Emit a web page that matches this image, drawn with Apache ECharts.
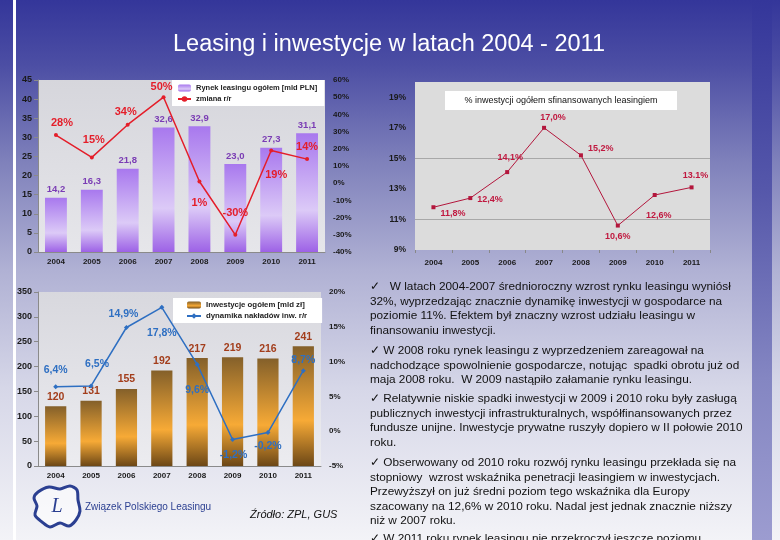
<!DOCTYPE html>
<html><head><meta charset="utf-8">
<script src="https://cdn.jsdelivr.net/npm/echarts@6/dist/echarts.min.js"></script>
<style>
html,body{margin:0;padding:0;width:780px;height:540px;overflow:hidden;}
#bg{position:absolute;left:0;top:0;width:780px;height:540px;background:linear-gradient(to bottom,#34369a 0%,#4c4ea4 12%,#7f81bb 30%,#b0b1d4 50%,#d6d7e8 72%,#f3f3f7 100%);}
#vline{position:absolute;left:13px;top:0;width:3px;height:540px;background:#fff;}
#band{position:absolute;left:752px;top:0;width:20px;height:540px;background:linear-gradient(to bottom,#34369a 0%,#5557aa 35%,#8486c2 70%,#9c9cd0 100%);}
#chart{position:absolute;left:0;top:0;width:780px;height:540px;}
</style></head>
<body>
<div id="bg"></div><div id="vline"></div><div id="band"></div>
<div id="chart"></div>
<script>
// ---- data ----
const years = ['2004','2005','2006','2007','2008','2009','2010','2011'];
const leasingMarket = [14.2,16.3,21.8,32.6,32.9,23.0,27.3,31.1];   // mld PLN
const leasingChange = [28,15,34,50,1,-30,19,14];                   // % r/r
const leasingShare = [11.8,12.4,14.1,17.0,15.2,10.6,12.6,13.1];    // % inwestycji finansowanych leasingiem
const investTotal = [120,131,155,192,217,219,216,241];             // mld zł
const investChange = [6.4,6.5,14.9,17.8,9.6,-1.2,-0.2,8.7];        // % r/r
const shareGridLines = [11,15];

const FONT = '"Liberation Sans", Arial, sans-serif';
const comma = v => String(v.toFixed(1)).replace('.', ',');

// label placement (style)
const chgPos = [['top',[6,0]],['top',[2,-5]],['top',[-2,0]],['top',[-2,2]],['bottom',[0,9]],['top',[0,-9]],['bottom',[5,12]],['top',[0,0]]];
const sharePos = [['right',[0,6]],['right',[0,1]],['top',[3,-3]],['top',[9,1]],['right',[0,-7]],['bottom',[0,-1]],['bottom',[4,9]],['top',[4,0]]];
const invPos = [['top',[0,-4]],['top',[6,-9]],['top',[-3,0]],['bottom',[0,13]],['bottom',[0,13]],['bottom',[1,3]],['bottom',[0,1]],['top',[0,2]]];

const lg = (c) => new echarts.graphic.LinearGradient(0,0,0,1,c);
const axisLbl = {fontFamily: FONT, fontSize: 9, fontWeight: 'bold', color: '#1a1a1a'};
const TXT = '11.8px ' + FONT;

const chart = echarts.init(document.getElementById('chart'), null, {renderer: 'canvas'});

const option = {
  animation: false,
  grid: [
    {left:38, top:80, width:287, height:172, show:true, borderWidth:0,
     backgroundColor: lg([{offset:0,color:'#d6d6dc'},{offset:1,color:'#e6e6ea'}])},
    {left:415, top:82, width:295, height:168, show:true, borderWidth:0, backgroundColor:'#dcdcdc'},
    {left:38, top:292, width:283, height:174, show:true, borderWidth:0,
     backgroundColor: lg([{offset:0,color:'#d8d8de'},{offset:1,color:'#ececf0'}])}
  ],
  legend: [
    {data:['Rynek leasingu ogółem [mld PLN]','zmiana r/r'], left:172, top:80, orient:'vertical',
     backgroundColor:'#fff', padding:[4,7,3,5], itemGap:3, itemWidth:13, itemHeight:7,
     textStyle:{fontFamily:FONT, fontSize:7.5, fontWeight:'bold', color:'#222'}},
    {data:['Inwestycje ogółem [mld zł]','dynamika nakładów inw. r/r'], left:173, top:298, orient:'vertical',
     backgroundColor:'#fff', padding:[3,15,3,13], itemGap:3, itemWidth:14, itemHeight:7,
     textStyle:{fontFamily:FONT, fontSize:7.8, fontWeight:'bold', color:'#222'}}
  ],
  xAxis: [
    {type:'category', gridIndex:0, data:years, axisLine:{lineStyle:{color:'#8a8a8a'}}, axisTick:{show:false},
     axisLabel:Object.assign({}, axisLbl, {margin:6, fontSize:8})},
    {type:'category', gridIndex:1, data:years, axisLine:{show:false}, axisTick:{show:true, length:3, lineStyle:{color:'#888'}},
     axisLabel:Object.assign({}, axisLbl, {margin:9, fontSize:8})},
    {type:'category', gridIndex:2, data:years, axisLine:{lineStyle:{color:'#8a8a8a'}}, axisTick:{show:false},
     axisLabel:Object.assign({}, axisLbl, {margin:6, fontSize:8})}
  ],
  yAxis: [
    {type:'value', gridIndex:0, min:0, max:45, interval:5, splitLine:{show:false},
     axisLine:{show:true, lineStyle:{color:'#8a8a8a'}}, axisTick:{show:true, length:4, lineStyle:{color:'#8a8a8a'}},
     axisLabel:Object.assign({}, axisLbl, {margin:6})},
    {type:'value', gridIndex:0, position:'right', min:-40, max:60, interval:10, splitLine:{show:false},
     axisLine:{show:false}, axisTick:{show:false},
     axisLabel:Object.assign({}, axisLbl, {margin:8, fontSize:8, formatter: v => v + '%'})},
    {type:'value', gridIndex:1, min:9, max:20, interval:1, splitLine:{show:false},
     axisLine:{show:false}, axisTick:{show:false},
     axisLabel:Object.assign({}, axisLbl, {margin:9, fontSize:8.5, showMaxLabel:false,
       formatter: v => (Math.round(v) % 2 === 1 ? v + '%' : '')})},
    {type:'value', gridIndex:2, min:0, max:350, interval:50, splitLine:{show:false},
     axisLine:{show:true, lineStyle:{color:'#8a8a8a'}}, axisTick:{show:true, length:4, lineStyle:{color:'#8a8a8a'}},
     axisLabel:Object.assign({}, axisLbl, {margin:6})},
    {type:'value', gridIndex:2, position:'right', min:-5, max:20, interval:5, splitLine:{show:false},
     axisLine:{show:false}, axisTick:{show:false},
     axisLabel:Object.assign({}, axisLbl, {margin:8, fontSize:8, formatter: v => v + '%'})}
  ],
  series: [
    {name:'Rynek leasingu ogółem [mld PLN]', type:'bar', xAxisIndex:0, yAxisIndex:0, data:leasingMarket, barWidth:'61%',
     itemStyle:{color: lg([{offset:0,color:'#a878ee'},{offset:0.65,color:'#dccaf7'},{offset:1,color:'#9d62e6'}])},
     label:{show:true, position:'top', distance:3, fontFamily:FONT, fontSize:9.5, fontWeight:'bold', color:'#7a3cb4',
       formatter: p => comma(p.value)}},
    {name:'zmiana r/r', type:'line', xAxisIndex:0, yAxisIndex:1, z:5,
     data: leasingChange.map((v,i) => ({value:v, label:{position:chgPos[i][0], offset:chgPos[i][1]}})),
     color:'#e41e2a', lineStyle:{width:1.5, color:'#e41e2a'}, symbol:'circle', symbolSize:4,
     itemStyle:{color:'#e41e2a'},
     label:{show:true, fontFamily:FONT, fontSize:11, fontWeight:'bold', color:'#e41e2a', formatter: p => p.value + '%'}},
    {name:'udział leasingu', type:'line', xAxisIndex:1, yAxisIndex:2, z:5,
     data: leasingShare.map((v,i) => ({value:v, label:{position:sharePos[i][0], offset:sharePos[i][1]}})),
     lineStyle:{width:1, color:'#b3163c'}, symbol:'rect', symbolSize:4, itemStyle:{color:'#b3163c'},
     label:{show:true, fontFamily:FONT, fontSize:9, fontWeight:'bold', color:'#c0183f',
       formatter: p => (p.dataIndex === 7 ? p.value.toFixed(1) : comma(p.value)) + '%'},
     markLine:{silent:true, symbol:'none', z:1, label:{show:false}, lineStyle:{color:'#a8a8a8', width:1, type:'solid'},
       data: shareGridLines.map(v => ({yAxis:v}))}},
    {name:'Inwestycje ogółem [mld zł]', type:'bar', xAxisIndex:2, yAxisIndex:3, data:investTotal, barWidth:'60%',
     itemStyle:{color: lg([{offset:0,color:'#84602a'},{offset:0.62,color:'#f7aa36'},{offset:1,color:'#6c4716'}])},
     label:{show:true, position:'top', distance:4, fontFamily:FONT, fontSize:10.5, fontWeight:'bold', color:'#a33e1c'}},
    {name:'dynamika nakładów inw. r/r', type:'line', xAxisIndex:2, yAxisIndex:4, z:5,
     data: investChange.map((v,i) => ({value:v, label:{position:invPos[i][0], offset:invPos[i][1]}})),
     color:'#2e6fc2', lineStyle:{width:1.5, color:'#2e6fc2'}, symbol:'diamond', symbolSize:5, itemStyle:{color:'#2e6fc2'},
     label:{show:true, fontFamily:FONT, fontSize:10.5, fontWeight:'bold', color:'#2e6fc2', formatter: p => comma(p.value) + '%'}}
  ],
  graphic: [
    {type:'text', x:389, y:45, style:{text:'Leasing i inwestycje w latach 2004 - 2011', font:'23.5px ' + FONT, fill:'#ffffff', textAlign:'center', textVerticalAlign:'middle'}},
    {type:'rect', shape:{x:445, y:91, width:232, height:19}, style:{fill:'#ffffff'}, z:10},
    {type:'text', x:561, y:100.5, z:11, style:{text:'% inwestycji ogółem sfinansowanych leasingiem', font:'9px ' + FONT, fill:'#111', textAlign:'center', textVerticalAlign:'middle'}},
    {type:'polygon', z:10, shape:{smooth:0.3, points:[[38,492],[49,487],[60,489],[70,486],[77,490],[78,500],[80,511],[76,520],[69,526],[60,523],[50,527],[42,522],[35,515],[37,506],[34,498]]},
     style:{fill:'rgba(255,255,255,0.6)', stroke:'#2b3f91', lineWidth:3}},
    {type:'text', x:57, y:507, z:11, style:{text:'L', font:'italic 20px "Liberation Serif", "DejaVu Serif", serif', fill:'#2b3f91', textAlign:'center', textVerticalAlign:'middle'}},
    {type:'text', x:85, y:507, style:{text:'Związek Polskiego Leasingu', font:'10px ' + FONT, fill:'#2b3f91', textVerticalAlign:'middle'}},
    {type:'text', x:250, y:515, style:{text:'Źródło: ZPL, GUS', font:'italic 11px ' + FONT, fill:'#111', textVerticalAlign:'middle'}},
    {type:'text', x:370, y:279.5, style:{font:TXT, fill:'#111', lineHeight:14.6,
      text:'✓   W latach 2004-2007 średnioroczny wzrost rynku leasingu wyniósł\n32%, wyprzedzając znacznie dynamikę inwestycji w gospodarce na\npoziomie 11%. Efektem był znaczny wzrost udziału leasingu w\nfinansowaniu inwestycji.'}},
    {type:'text', x:370, y:343.4, style:{font:TXT, fill:'#111', lineHeight:14.6,
      text:'✓ W 2008 roku rynek leasingu z wyprzedzeniem zareagował na\nnadchodzące spowolnienie gospodarcze, notując  spadki obrotu już od\nmaja 2008 roku.  W 2009 nastąpiło załamanie rynku leasingu.'}},
    {type:'text', x:370, y:391.7, style:{font:TXT, fill:'#111', lineHeight:14.6,
      text:'✓ Relatywnie niskie spadki inwestycji w 2009 i 2010 roku były zasługą\npublicznych inwestycji infrastrukturalnych, współfinansowanych przez\nfundusze unijne. Inwestycje prywatne ruszyły dopiero w II połowie 2010\nroku.'}},
    {type:'text', x:370, y:455.4, style:{font:TXT, fill:'#111', lineHeight:14.6,
      text:'✓ Obserwowany od 2010 roku rozwój rynku leasingu przekłada się na\nstopniowy  wzrost wskaźnika penetracji leasingiem w inwestycjach.\nPrzewyższył on już średni poziom tego wskaźnika dla Europy\nszacowany na 12,6% w 2010 roku. Nadal jest jednak znacznie niższy\nniż w 2007 roku.'}},
    {type:'text', x:370, y:531, style:{font:TXT, fill:'#111', lineHeight:14.6,
      text:'✓ W 2011 roku rynek leasingu nie przekroczył jeszcze poziomu'}}
  ]
};
chart.setOption(option);
</script>
</body></html>
